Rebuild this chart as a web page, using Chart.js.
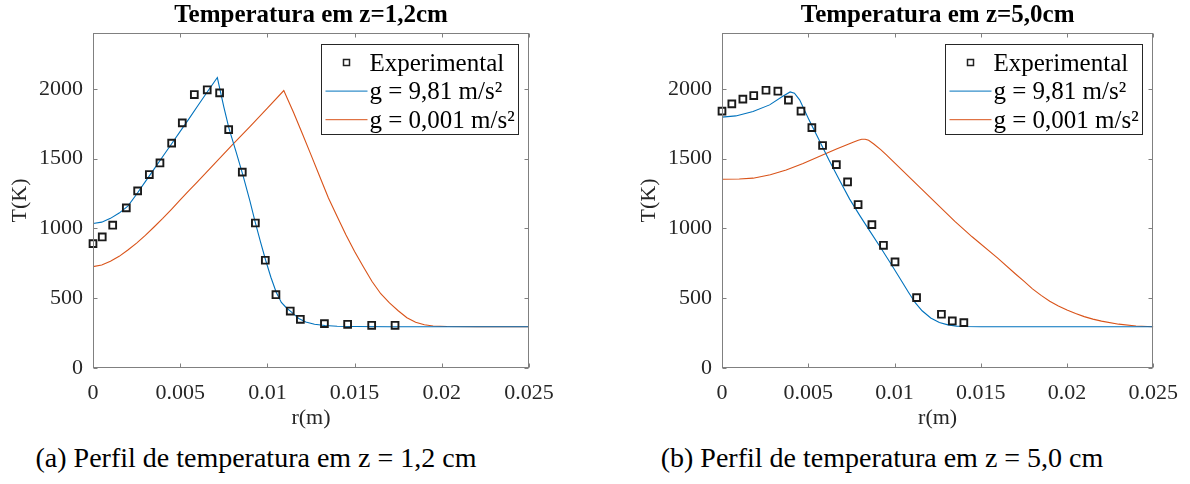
<!DOCTYPE html>
<html>
<head>
<meta charset="utf-8">
<script src="https://cdn.jsdelivr.net/npm/chart.js@4.4.1/dist/chart.umd.min.js"></script>
<style>
  html, body { margin: 0; padding: 0; background: #fff; }
  body { width: 1190px; height: 484px; position: relative; overflow: hidden; }
  canvas { position: absolute; top: 0; }
  #cA { left: 0; }
  #cB { left: 629px; }
  .cap { position: absolute; top: 444px; font: 28px "Liberation Serif", "Times New Roman", serif; line-height: 28px; color: #000; white-space: nowrap; transform: translateX(-50%); }
</style>
</head>
<body>
<canvas id="cA" width="595" height="440"></canvas>
<canvas id="cB" width="561" height="440"></canvas>
<div class="cap" style="left:256px">(a) Perfil de temperatura em z = 1,2 cm</div>
<div class="cap" style="left:882px">(b) Perfil de temperatura em z = 5,0 cm</div>
<script>
// ---------- data ----------
const xTicks = [0, 0.005, 0.01, 0.015, 0.02, 0.025];
const xTickLabels = ['0', '0.005', '0.01', '0.015', '0.02', '0.025'];
const yTicks = [0, 500, 1000, 1500, 2000];
const yTickLabels = ['0', '500', '1000', '1500', '2000'];
const seriesLabels = ['Experimental', 'g = 9,81 m/s²', 'g = 0,001 m/s²'];
const titleA = 'Temperatura em z=1,2cm';
const titleB = 'Temperatura em z=5,0cm';
const xTitle = 'r(m)';
const yTitle = 'T(K)';

// (a) z = 1,2 cm
const expA_r = [0, 0.00053, 0.00113, 0.00191, 0.00256, 0.00323, 0.00384, 0.00451, 0.00512, 0.00581, 0.00655, 0.00726, 0.00778, 0.00856, 0.00931, 0.00988, 0.01049, 0.01131, 0.01189, 0.01327, 0.01460, 0.01598, 0.01732];
const expA_T = [891, 939, 1023, 1147, 1269, 1386, 1469, 1611, 1756, 1959, 1993, 1971, 1708, 1403, 1039, 772, 525, 408, 349, 318, 313, 306, 306];

const g981A_r = [0, 0.0005, 0.001, 0.0015, 0.002, 0.0025, 0.003, 0.0035, 0.004, 0.0045, 0.005, 0.0055, 0.006, 0.0065, 0.007, 0.00713, 0.0075, 0.0078, 0.0082, 0.0086, 0.009, 0.0093, 0.0096, 0.0099, 0.0102, 0.0105, 0.0108, 0.0111, 0.0114, 0.0118, 0.0122, 0.0127, 0.0133, 0.014, 0.015, 0.017, 0.02, 0.025];
const g981A_T = [1035, 1045, 1072, 1110, 1160, 1245, 1335, 1425, 1515, 1605, 1695, 1785, 1877, 1968, 2058, 2081, 1870, 1715, 1550, 1380, 1195, 1045, 905, 772, 650, 545, 470, 430, 398, 355, 330, 313, 304, 299, 297, 296, 296, 296];

const g001A_r = [0, 0.0005, 0.001, 0.0015, 0.002, 0.0025, 0.003, 0.0035, 0.004, 0.0045, 0.005, 0.0055, 0.006, 0.007, 0.008, 0.009, 0.01, 0.01094, 0.0112, 0.0115, 0.012, 0.0125, 0.013, 0.0135, 0.014, 0.0145, 0.015, 0.0155, 0.016, 0.0165, 0.017, 0.0175, 0.018, 0.0185, 0.019, 0.0195, 0.0203, 0.022, 0.025];
const g001A_T = [726, 738, 765, 800, 845, 895, 950, 1010, 1072, 1137, 1204, 1270, 1336, 1468, 1600, 1730, 1862, 1988, 1915, 1830, 1680, 1527, 1372, 1218, 1085, 955, 835, 725, 620, 532, 466, 410, 360, 328, 310, 301, 297, 296, 296];

// (b) z = 5,0 cm
const expB_r = [0, 0.00057, 0.00121, 0.00184, 0.00255, 0.00324, 0.00385, 0.00458, 0.00521, 0.00583, 0.00663, 0.00728, 0.00789, 0.00869, 0.00936, 0.01003, 0.01128, 0.01272, 0.01335, 0.01402];
const expB_T = [1840, 1892, 1926, 1952, 1990, 1983, 1919, 1840, 1722, 1594, 1457, 1333, 1171, 1027, 879, 760, 504, 385, 337, 325];

const g981B_r = [0, 0.0008, 0.0018, 0.00276, 0.0035, 0.00395, 0.0042, 0.0045, 0.005, 0.0056, 0.0062, 0.0068, 0.0074, 0.008, 0.0086, 0.0092, 0.0098, 0.0104, 0.0108, 0.0112, 0.0116, 0.0121, 0.0126, 0.0131, 0.0136, 0.0141, 0.015, 0.017, 0.02, 0.025];
const g981B_T = [1797, 1806, 1837, 1885, 1945, 1978, 1969, 1921, 1790, 1640, 1491, 1348, 1210, 1090, 975, 862, 745, 625, 545, 468, 410, 358, 326, 309, 300, 297, 296, 295, 295, 295];

const g001B_r = [0, 0.001, 0.0018, 0.0028, 0.00372, 0.0047, 0.00563, 0.0066, 0.0076, 0.0079, 0.0081, 0.0083, 0.0085, 0.0088, 0.0092, 0.0095, 0.0105, 0.0115, 0.0125, 0.0135, 0.0145, 0.016, 0.017, 0.0175, 0.018, 0.0185, 0.019, 0.0195, 0.02, 0.0205, 0.021, 0.0215, 0.022, 0.023, 0.024, 0.025];
const g001B_T = [1352, 1354, 1360, 1385, 1419, 1465, 1515, 1568, 1618, 1632, 1639, 1639, 1631, 1605, 1565, 1530, 1410, 1290, 1170, 1050, 940, 785, 675, 622, 567, 520, 478, 445, 415, 390, 368, 350, 336, 314, 301, 295];

// ---------- styling ----------
const FONT = '"Liberation Serif", "Times New Roman", serif';
const BLUE = '#0072BD';
const ORANGE = '#D95319';
const AXIS = '#808080';

function pts(xs, ys) { return xs.map((x, i) => ({ x: x, y: ys[i] })); }

const matlabAxes = {
  id: 'matlabAxes',
  afterDatasetsDraw(chart) {
    const { ctx, chartArea: a, scales: { x, y } } = chart;
    ctx.save();
    ctx.strokeStyle = AXIS;
    ctx.lineWidth = 1;
    const L = Math.round(a.left) + 0.5, R = Math.round(a.right) - 0.5;
    const T = Math.round(a.top) + 0.5, B = Math.round(a.bottom) - 0.5;
    ctx.beginPath();
    x.ticks.forEach(t => {
      const px = Math.round(x.getPixelForValue(t.value)) + 0.5;
      ctx.moveTo(px, B); ctx.lineTo(px, B - 4);
      ctx.moveTo(px, T); ctx.lineTo(px, T + 4);
    });
    y.ticks.forEach(t => {
      const py = Math.round(y.getPixelForValue(t.value)) + 0.5;
      ctx.moveTo(L, py); ctx.lineTo(L + 4, py);
      ctx.moveTo(R, py); ctx.lineTo(R - 4, py);
    });
    ctx.stroke();
    ctx.strokeRect(L, T, R - L, B - T);
    ctx.restore();
  }
};

const boxLegend = {
  id: 'boxLegend',
  afterDraw(chart) {
    const { ctx, chartArea: a } = chart;
    const w = 197, h = 90;
    const left = Math.round(a.right - 11 - w) + 0.5, top = Math.round(a.top + 11) + 0.5;
    ctx.save();
    ctx.fillStyle = '#fff';
    ctx.fillRect(left, top, w, h);
    ctx.strokeStyle = '#262626';
    ctx.lineWidth = 1;
    ctx.strokeRect(left, top, w, h);
    ctx.font = '25px ' + FONT;
    ctx.textBaseline = 'alphabetic';
    ctx.textAlign = 'left';
    chart.data.datasets.forEach((ds, i) => {
      const cy = top + 18 + i * 28.6;
      if (ds.showLine) {
        ctx.strokeStyle = ds.borderColor;
        ctx.lineWidth = 1;
        ctx.beginPath();
        ctx.moveTo(left + 4, cy); ctx.lineTo(left + 46, cy);
        ctx.stroke();
      } else {
        ctx.strokeStyle = '#222';
        ctx.lineWidth = 1.5;
        ctx.strokeRect(left + 22, cy - 3, 6, 6);
      }
      ctx.fillStyle = '#000';
      ctx.fillText(ds.label, left + 48, cy + 8);
    });
    ctx.restore();
  }
};

function makeChart(id, title, er, eT, br, bT, orr, oT, padRight) {
  return new Chart(document.getElementById(id), {
    type: 'scatter',
    data: {
      datasets: [
        { label: seriesLabels[0], data: pts(er, eT), showLine: false, pointStyle: 'rect', pointRadius: 4.8,
          pointBorderWidth: 1.9, pointBorderColor: '#1a1a1a', pointBackgroundColor: 'rgba(0,0,0,0)', clip: false },
        { label: seriesLabels[1], data: pts(br, bT), showLine: true, borderColor: BLUE, borderWidth: 1.1,
          pointRadius: 0, tension: 0 },
        { label: seriesLabels[2], data: pts(orr, oT), showLine: true, borderColor: ORANGE, borderWidth: 1.1,
          pointRadius: 0, tension: 0 }
      ]
    },
    options: {
      responsive: false,
      animation: false,
      devicePixelRatio: 1,
      layout: { padding: { left: 0, right: padRight, top: 0, bottom: 0 } },
      plugins: {
        legend: { display: false },
        tooltip: { enabled: false },
        title: { display: true, text: title, fullSize: false, color: '#000',
                 font: { family: FONT, size: 25, weight: 'bold', lineHeight: 1.2 },
                 padding: { top: 1, bottom: 2 } }
      },
      scales: {
        x: {
          type: 'linear', min: 0, max: 0.025,
          afterBuildTicks: s => { s.ticks = xTicks.map(v => ({ value: v })); },
          afterFit: s => { s.height = 72; },
          ticks: { callback: (v, i) => xTickLabels[i], color: '#262626', padding: 12, maxRotation: 0,
                   font: { family: FONT, size: 22 } },
          grid: { display: false, drawTicks: false },
          border: { display: false },
          title: { display: true, text: xTitle, color: '#262626', font: { family: FONT, size: 22 },
                   padding: { top: 0, bottom: 9 } }
        },
        y: {
          type: 'linear', min: 0, max: 2400,
          afterBuildTicks: s => { s.ticks = yTicks.map(v => ({ value: v })); },
          afterFit: s => { s.width = 93; },
          ticks: { callback: (v, i) => yTickLabels[i], color: '#262626', padding: 10,
                   font: { family: FONT, size: 22 } },
          grid: { display: false, drawTicks: false },
          border: { display: false },
          title: { display: true, text: yTitle, color: '#262626', font: { family: FONT, size: 22 },
                   padding: { top: 7, bottom: 0 } }
        }
      }
    },
    plugins: [matlabAxes, boxLegend]
  });
}

makeChart('cA', titleA, expA_r, expA_T, g981A_r, g981A_T, g001A_r, g001A_T, 66);
makeChart('cB', titleB, expB_r, expB_T, g981B_r, g981B_T, g001B_r, g001B_T, 33);
</script>
</body>
</html>
